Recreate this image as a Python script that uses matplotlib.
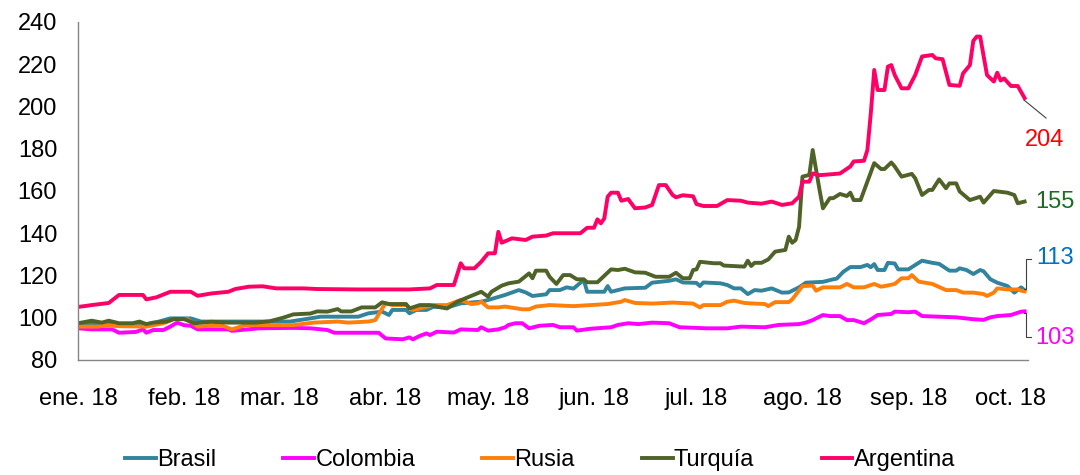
import numpy as np
import matplotlib
matplotlib.use("Agg")
import matplotlib.pyplot as plt

# font
plt.rcParams['font.family'] = ['Liberation Sans', 'DejaVu Sans']
FS = 17

# data: days since 1 Jan 2018 and index values
start = np.datetime64('2018-01-01')

arg_d = [0, 4, 9, 12, 19, 20, 23, 27, 33, 35, 39, 44, 46, 50, 54, 58, 66, 70, 82, 97,
         103, 105, 110, 112, 113, 116, 118, 120, 122, 123, 124, 127, 131, 133, 137, 139,
         147, 149, 151, 152, 153, 154, 155, 156, 158, 159, 161, 163, 166, 168, 170, 172,
         174, 175, 177, 180, 181, 183, 187, 190, 194, 196, 200, 203, 206, 209, 211, 212,
         214, 215, 217, 221, 223, 226, 227, 230, 231, 232, 233, 234, 236, 237, 238, 239,
         241, 243, 245, 247, 250, 251, 253, 255, 258, 259, 261, 262, 263, 264, 266, 268,
         269, 270, 271, 273, 275, 277]
arg_v = [105.1, 106, 107, 110.8, 110.8, 108.7, 109.7, 112.3, 112.3, 110.4, 111.5, 112.3,
         113.6, 114.7, 114.9, 113.9, 113.9, 113.6, 113.4, 113.4, 113.9, 115.5, 115.5, 125.8,
         123.4, 123.4, 126.5, 130.5, 130.5, 140.7, 135.5, 137.6, 136.8, 138.4, 138.9, 140,
         140, 142.6, 142.6, 146.6, 144.7, 147, 157.3, 159.2, 159.2, 155.4, 156.2, 151.8,
         152.2, 153.4, 162.8, 162.8, 158.1, 157, 158, 157.5, 153.8, 152.9, 152.9, 155.7,
         155.4, 154.5, 154, 155, 153.4, 154.2, 157.3, 164.4, 164.4, 168.3, 167.5, 168,
         168.3, 171.6, 174, 174.3, 179.4, 196.8, 217.3, 207.8, 207.8, 218.9, 219.6, 214.9,
         208.6, 208.6, 214.9, 223.7, 224.4, 222.8, 222.4, 210.2, 209.8, 215.7, 219.6, 231.1,
         233.1, 233.1, 214.9, 211.8, 216, 212.3, 213.3, 209.7, 209.7, 204]

tur_d = [0, 4, 7, 9, 12, 16, 18, 20, 22, 26, 28, 31, 34, 39, 44, 52, 56, 60, 63, 68, 70,
         73, 76, 77, 80, 83, 87, 89, 91, 96, 97, 100, 103, 106, 108, 111, 115, 118, 120,
         121, 124, 126, 129, 132, 133, 134, 137, 138, 140, 142, 144, 146, 148, 149, 152,
         156, 158, 160, 163, 166, 169, 173, 175, 177, 179, 180, 181, 182, 186, 188, 189,
         195, 196, 197, 198, 200, 202, 204, 207, 208, 209, 210, 211, 212, 214, 215, 217,
         218, 220, 221, 223, 225, 226, 227, 229, 233, 235, 236, 238, 239, 241, 244, 245,
         247, 249, 250, 252, 254, 255, 257, 258, 261, 264, 265, 268, 272, 274, 275, 277]
tur_v = [97.4, 98.6, 97.7, 98.6, 97.4, 97.4, 98.2, 97, 97.7, 98.2, 99.4, 99.4, 97.4, 98.1,
         97.7, 97.7, 98.3, 100, 101.6, 102, 103, 102.9, 104.1, 103, 103, 104.9, 104.9, 107.3,
         106.5, 106.5, 104.4, 106, 106, 105, 104.4, 107.6, 110.3, 112.3, 110, 112.3, 115.2,
         116.3, 117.1, 121, 118.7, 122.3, 122.3, 119.4, 116, 120.2, 120.2, 118.2, 118.2,
         116.8, 116.8, 122.9, 122.6, 123.2, 121.5, 121.3, 119.4, 119.4, 121.3, 118.7, 118.7,
         122.6, 122.9, 126.5, 125.8, 125.8, 124.7, 124.2, 127, 124.5, 126, 126, 127.6, 131.3,
         132.1, 138.4, 135.5, 136.8, 143, 166.8, 167.6, 179.4, 160.5, 151.8, 156.6, 156.6,
         158.6, 157.6, 159.2, 155.7, 155.7, 173.2, 170.4, 170.4, 173.5, 171.6, 166.8, 168.1,
         166, 158.1, 160.5, 160.5, 165.5, 161.3, 163.6, 163.6, 159.8, 155.7, 157.3, 154.5,
         160, 159.2, 158.1, 154.2, 155]

bra_d = [0, 4, 12, 21, 27, 33, 36, 53, 62, 68, 71, 82, 85, 89, 91, 92, 96, 97, 99, 102,
         104, 108, 112, 118, 120, 125, 129, 131, 133, 137, 138, 141, 143, 145, 148, 149,
         154, 155, 156, 160, 166, 168, 173, 175, 177, 181, 182, 183, 188, 190, 192, 194,
         196, 198, 200, 203, 206, 208, 211, 213, 218, 221, 222, 224, 226, 229, 231, 232,
         233, 234, 236, 237, 239, 240, 243, 246, 247, 250, 252, 255, 257, 258, 260, 262,
         264, 265, 267, 269, 272, 274, 276, 277]
bra_v = [97, 97.5, 97, 97, 99.7, 99.7, 98.2, 98.2, 98.2, 99.7, 100.5, 100.5, 102.1, 102.9,
         101.3, 103.7, 103.7, 102.1, 103.7, 103.7, 105.2, 104.8, 106.8, 107.6, 108.4, 110.8,
         113.1, 112, 110.3, 111.1, 113.1, 113.1, 114.4, 113.8, 117.9, 112.3, 112.3, 115,
         112.3, 113.9, 114.2, 116.6, 117.5, 118.2, 116.7, 116.5, 115, 116.7, 116.3, 115.5,
         113.9, 113.9, 111.2, 113.1, 112.8, 113.9, 111.9, 112, 114.4, 116.6, 117, 118.2,
         118.5, 121.8, 124, 124, 125, 123.9, 125.4, 122.6, 122.6, 126, 125.7, 122.9, 122.9,
         126, 127, 126, 125.5, 122.3, 122.3, 123.4, 122.6, 120.7, 122.6, 122, 118.2, 116.6,
         115, 111.9, 114.4, 113]

rus_d = [0, 6, 8, 12, 20, 25, 28, 32, 35, 42, 45, 49, 63, 69, 76, 79, 85, 87, 89, 90, 92,
         96, 98, 100, 104, 108, 112, 115, 117, 118, 120, 123, 125, 130, 132, 134, 138, 145,
         150, 155, 159, 160, 163, 168, 174, 180, 182, 183, 188, 190, 192, 195, 198, 201,
         202, 204, 208, 209, 210, 212, 215, 216, 218, 223, 225, 227, 230, 233, 235, 237,
         239, 241, 243, 244, 246, 250, 254, 257, 259, 262, 265, 266, 268, 269, 272, 275,
         276, 277]
rus_v = [95.8, 95.8, 96.5, 96, 95.8, 97.4, 99.3, 99.3, 95.8, 96.5, 94.5, 96.5, 96.5, 97.7,
         98.2, 97.7, 98.2, 98.9, 104.4, 106.8, 106, 106, 103.7, 104.4, 106, 106, 108.4, 106.5,
         106.8, 107.6, 104.9, 104.9, 105.3, 104, 104, 105.3, 106, 105.5, 106, 106.5, 107.6,
         108.4, 107, 106.7, 107.2, 106.7, 104.9, 106, 106, 107.6, 108.1, 107, 106.7, 106.5,
         105.5, 107.4, 107.4, 108.7, 110.8, 115, 115.2, 112.8, 114.4, 114.4, 116, 114.4,
         114.4, 116, 114.7, 115.3, 116, 118.7, 118.7, 120.2, 117.1, 116, 113.1, 113.1, 111.9,
         111.9, 111.2, 110.3, 111.9, 113.9, 113.4, 113.4, 112.8, 112.5]

col_d = [0, 4, 10, 12, 17, 19, 20, 22, 25, 27, 29, 31, 33, 35, 44, 45, 53, 63, 68, 73, 75,
         88, 90, 95, 97, 98, 100, 102, 103, 105, 110, 112, 117, 118, 120, 123, 125, 126,
         128, 130, 132, 135, 139, 141, 145, 146, 150, 156, 158, 161, 164, 168, 173, 176,
         184, 190, 194, 201, 205, 211, 213, 215, 218, 220, 223, 225, 227, 230, 232, 234,
         238, 239, 243, 245, 247, 252, 257, 262, 265, 267, 269, 273, 276, 277]
col_v = [95, 94.5, 94.5, 92.9, 93.3, 94.5, 92.9, 94.2, 94.2, 95.8, 97.7, 96.5, 96.2, 94.5,
         94.5, 93.8, 95, 95.2, 95, 94.2, 92.9, 92.9, 90.2, 89.8, 90.7, 89.8, 91.4, 92.6, 91.8,
         93.4, 93, 94.5, 94.2, 95.5, 93.9, 94.5, 95.5, 96.6, 97.4, 97.4, 95, 96.2, 96.6, 95.5,
         95.5, 93.9, 94.8, 95.5, 96.6, 97.4, 97, 97.7, 97.4, 95.5, 95, 95, 95.8, 95.5, 96.6,
         97, 97.7, 98.9, 101.3, 100.8, 100.8, 98.9, 98.9, 97.4, 99.2, 101.3, 101.8, 102.9,
         102.6, 102.9, 100.8, 100.5, 100.2, 99.3, 99, 100.2, 100.8, 101.3, 102.9, 103]

names = ["Brasil", "Colombia", "Rusia", "Turquía", "Argentina"]
days = [bra_d, col_d, rus_d, tur_d, arg_d]
vals = [bra_v, col_v, rus_v, tur_v, arg_v]
colors = ["#31849B", "#FF00FF", "#FF7F0A", "#4F6228", "#FF0066"]
months = ["ene. 18", "feb. 18", "mar. 18", "abr. 18", "may. 18", "jun. 18", "jul. 18",
          "ago. 18", "sep. 18", "oct. 18"]

fig = plt.figure(figsize=(10.8, 4.75), dpi=100)
ax = fig.add_axes([78/1080, 115/475, 950/1080, 338/475])

for d, v, c, n in zip(days, vals, colors, names):
    t = start + np.array(d).astype('timedelta64[D]')
    ax.plot(t, v, color=c, lw=2.8, label=n, solid_joinstyle='round')

ax.set_ylim(80, 240)
ax.set_yticks(range(80, 241, 20))
ax.set_xlim(start, start + np.timedelta64(278, 'D'))
mticks = [np.datetime64('2018-%02d-01' % m) for m in range(1, 11)]
ax.set_xticks(mticks)
ax.set_xticklabels(months)
ax.tick_params(axis='both', length=0, labelsize=FS)
ax.tick_params(axis='y', pad=15)
ax.tick_params(axis='x', pad=20)
for s in ['top', 'right']:
    ax.spines[s].set_visible(False)
for s in ['left', 'bottom']:
    ax.spines[s].set_color('#868686')
    ax.spines[s].set_linewidth(1)

# end labels (figure pixels from top-left)
def fpos(x, y):
    return x/1080, 1 - y/475

fig.text(*fpos(1045, 140), "%d" % round(arg_v[-1]), color='#FF0000', fontsize=FS,
         ha='center', va='center')
fig.text(*fpos(1055, 202), "%d" % round(tur_v[-1]), color='#1E6B24', fontsize=FS,
         ha='center', va='center')
fig.text(*fpos(1055, 258), "%d" % round(bra_v[-1]), color='#0070C0', fontsize=FS,
         ha='center', va='center')
fig.text(*fpos(1055, 338), "%d" % round(col_v[-1]), color='#FF00FF', fontsize=FS,
         ha='center', va='center')

# leader lines
leaders = [([1024, 1046], [100, 118]),
           ([1024, 1026, 1026, 1031], [289, 289, 259, 259]),
           ([1024, 1026, 1026, 1031], [313, 313, 337, 337])]
for lx, ly in leaders:
    fig.add_artist(plt.Line2D([x/1080 for x in lx], [1 - y/475 for y in ly],
                              color='#404040', lw=0.8))

fig.legend(loc='center', bbox_to_anchor=(0.5, 15/475), ncol=5, frameon=False,
           fontsize=FS, handlelength=1.3, handletextpad=0.05, columnspacing=2.85)

fig.savefig("out.png", dpi=100)
